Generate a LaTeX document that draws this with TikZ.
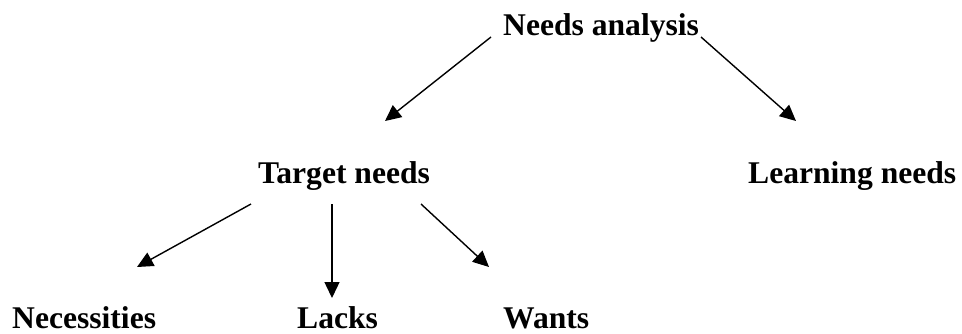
\documentclass[tikz,border=0pt]{standalone}
\usepackage{fontspec}
\setmainfont{Liberation Serif}
\usetikzlibrary{arrows.meta}

\begin{document}
\begin{tikzpicture}[x=1pt,y=1pt,yscale=-1,xscale=1,
    lbl/.style={anchor=base west,inner sep=0pt,font=\fontsize{31.6}{36}\selectfont\bfseries},
    arr/.style={line width=1.4pt,-{Triangle[length=16pt,width=15pt]}}]
            \useasboundingbox (0,0) rectangle (962,333);

            % Text Nodes
            \node [lbl] (analysis) at (503,35) {Needs analysis};
            \node [lbl] (target) at (258,183) {Target needs};
            \node [lbl] (learning) at (748,183) {Learning needs};
            \node [lbl] (necessities) at (12,328) {Necessities};
            \node [lbl] (lacks) at (297,328) {Lacks};
            \node [lbl] (wants) at (503,328) {Wants};

            % arrow ends
            \coordinate (analysis-l) at (491,37);
            \coordinate (analysis-r) at (701,37);
            \coordinate (target-in) at (385,121);
            \coordinate (learning-in) at (796,121);
            \coordinate (target-l) at (251,204);
            \coordinate (target-m) at (332,204);
            \coordinate (target-r) at (421,204);
            \coordinate (necessities-in) at (137,267);
            \coordinate (lacks-in) at (332,298);
            \coordinate (wants-in) at (489,267);

            % Straight Lines
            \draw [arr] (analysis-l) -- (target-in);
            \draw [arr] (analysis-r) -- (learning-in);
            \draw [arr] (target-l) -- (necessities-in);
            \draw [arr] (target-m) -- (lacks-in);
            \draw [arr] (target-r) -- (wants-in);

\end{tikzpicture}
\end{document}
